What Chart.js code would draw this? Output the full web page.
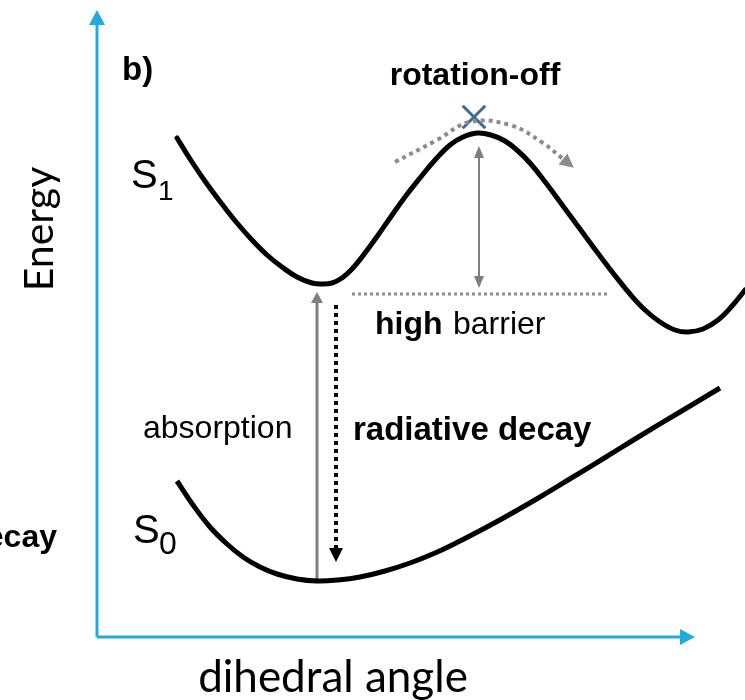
<!DOCTYPE html>
<html><head><meta charset="utf-8">
<script src="https://cdn.jsdelivr.net/npm/chart.js@4/dist/chart.umd.min.js"></script>
<style>html,body{margin:0;padding:0;background:#fff}#wrap{width:745px;height:700px;position:relative}</style>
</head><body><div id="wrap"><canvas id="c"></canvas></div>
<script>
// Potential energy curves: dihedral angle (arbitrary units) vs energy (arbitrary units)
const s1Angle  = [177, 192, 207, 222, 237, 252, 267, 282, 297, 312, 322, 332, 342, 352, 362, 376, 390, 405, 420, 435, 450, 463, 477, 491, 505, 518, 530, 546, 563, 580, 597, 613, 630, 645, 660, 675, 688, 703, 718, 732, 745, 760];
const s1Energy = [562, 538, 516, 496, 477, 460, 445, 433, 423, 417, 416, 417, 422, 431, 443, 462, 482, 503, 522, 540, 555, 563, 567, 565, 559, 549, 537, 517, 494, 471, 448, 427, 406, 390, 378, 370, 368, 371, 380, 394, 410, 430];
const s0Angle  = [177, 193, 210, 227, 243, 260, 277, 297, 317, 338, 360, 385, 410, 435, 460, 485, 507, 540, 573, 606, 640, 680, 720];
const s0Energy = [219, 195, 173, 156, 143, 133, 126, 121, 119, 120, 123, 129, 137, 147, 159, 172, 184, 203, 223, 243, 264, 288, 312];

// Transitions / annotations
const absorptionAngle = [317, 317];
const absorptionEnergy = [120, 397];
const decayAngle = [336, 336];
const decayEnergy = [395, 152];
const barrierAngle = [479, 479];
const barrierEnergy = [424, 542];
const barrierLevelAngle = [352, 608];
const barrierLevelEnergy = [406, 406];
const rotationAngle = [395, 437, 470, 510, 543, 563];
const rotationEnergy = [538, 560, 578, 575, 557, 541];
const blockedAngle = [474];
const blockedEnergy = [583];
// Axes
const yAxisAngle = [97, 97];
const yAxisEnergy = [63, 675];
const xAxisAngle = [97, 680];
const xAxisEnergy = [63, 63];

const pts = (xs, ys) => xs.map((x, i) => ({x, y: ys[i]}));

const ARIAL = '"Liberation Sans", Arial, sans-serif';
const labels = [
  {text: 'b)', x: 122, y: 620, font: 'bold 33px ' + ARIAL},
  {text: 'rotation-off', x: 475, y: 615, font: 'bold 32px ' + ARIAL, align: 'center'},
  {text: 'S', x: 131, y: 512, font: '40px ' + ARIAL},
  {text: '1', x: 158, y: 500, font: '28px ' + ARIAL},
  {text: 'S', x: 133, y: 157, font: '40px ' + ARIAL},
  {text: '0', x: 159, y: 146, font: '32px ' + ARIAL},
  {text: 'high', x: 375, y: 366, font: 'bold 32px ' + ARIAL},
  {text: 'barrier', x: 453, y: 366, font: '32px ' + ARIAL},
  {text: 'absorption', x: 143, y: 262, font: '32px ' + ARIAL},
  {text: 'radiative decay', x: 353, y: 260, font: 'bold 33px ' + ARIAL},
  {text: 'decay', x: 57, y: 153, font: 'bold 32px ' + ARIAL, align: 'right'},
  {text: 'Energy', x: 53, y: 471, font: '41px Lato, sans-serif', align: 'center', rotate: true},
  {text: 'dihedral angle', x: 333, y: 8, font: '44px Lato, sans-serif', align: 'center'}
];

const arrowPlugin = {
  id: 'arrows',
  afterDatasetsDraw(chart) {
    const ctx = chart.ctx;
    chart.data.datasets.forEach((ds, i) => {
      if (!ds.arrow) return;
      const p = chart.getDatasetMeta(i).data;
      const head = (base, from) => {
        const a = Math.atan2(base.y - from.y, base.x - from.x);
        const L = ds.arrow.len, W = ds.arrow.width / 2;
        ctx.save();
        ctx.translate(base.x, base.y);
        ctx.rotate(a);
        ctx.beginPath();
        ctx.moveTo(L, 0);
        ctx.lineTo(0, W);
        ctx.lineTo(0, -W);
        ctx.closePath();
        ctx.fillStyle = ds.arrow.color || ds.borderColor;
        ctx.fill();
        ctx.restore();
      };
      const n = p.length;
      if (ds.arrow.end) head(p[n - 1], p[n - 2]);
      if (ds.arrow.start) head(p[0], p[1]);
    });
  }
};

const textPlugin = {
  id: 'texts',
  afterDatasetsDraw(chart) {
    const ctx = chart.ctx, xs = chart.scales.x, ys = chart.scales.y;
    labels.forEach(l => {
      const px = xs.getPixelForValue(l.x), py = ys.getPixelForValue(l.y);
      ctx.save();
      ctx.font = l.font;
      ctx.fillStyle = '#000';
      ctx.textBaseline = 'alphabetic';
      ctx.textAlign = l.align || 'left';
      ctx.translate(px, py);
      if (l.rotate) ctx.rotate(-Math.PI / 2);
      ctx.fillText(l.text, 0, 0);
      ctx.restore();
    });
  }
};

const BLUE = '#22a9e1';
const line = (data, extra) => Object.assign({
  type: 'line', data, pointRadius: 0, fill: false, tension: 0,
  borderCapStyle: 'butt', borderJoinStyle: 'round'
}, extra);

new Chart(document.getElementById('c'), {
  type: 'line',
  data: {
    datasets: [
      line(pts(yAxisAngle, yAxisEnergy), {borderColor: BLUE, borderWidth: 3, arrow: {end: true, len: 15, width: 16}}),
      line(pts(xAxisAngle, xAxisEnergy), {borderColor: BLUE, borderWidth: 3, arrow: {end: true, len: 15, width: 16}}),
      line(pts(s1Angle, s1Energy), {borderColor: '#000', borderWidth: 5, tension: 0.4, borderCapStyle: 'round'}),
      line(pts(s0Angle, s0Energy), {borderColor: '#000', borderWidth: 5, tension: 0.4}),
      line(pts(barrierLevelAngle, barrierLevelEnergy), {borderColor: '#8c8c8c', borderWidth: 3, borderDash: [3, 3]}),
      line(pts(absorptionAngle, absorptionEnergy), {borderColor: '#7f7f7f', borderWidth: 3, arrow: {end: true, len: 11, width: 12}}),
      line(pts(decayAngle, decayEnergy), {borderColor: '#000', borderWidth: 4, borderDash: [4, 4], arrow: {end: true, len: 14, width: 14}}),
      line(pts(barrierAngle, barrierEnergy), {borderColor: '#7f7f7f', borderWidth: 2, arrow: {end: true, start: true, len: 12, width: 10}}),
      line(pts(rotationAngle, rotationEnergy), {borderColor: '#8c8c8c', borderWidth: 4, borderDash: [4, 4], tension: 0.4, arrow: {end: true, len: 14, width: 14}}),
      {type: 'scatter', data: pts(blockedAngle, blockedEnergy), pointStyle: 'crossRot', pointRadius: 16, borderColor: '#3b6b9b', borderWidth: 3, backgroundColor: '#3b6b9b'}
    ]
  },
  options: {
    responsive: true, maintainAspectRatio: false, animation: false,
    layout: {padding: 0, autoPadding: false},
    plugins: {legend: {display: false}, tooltip: {enabled: false}},
    scales: {
      x: {type: 'linear', min: 0, max: 745, display: false},
      y: {type: 'linear', min: 0, max: 700, display: false}
    }
  },
  plugins: [arrowPlugin, textPlugin]
});
</script></body></html>
